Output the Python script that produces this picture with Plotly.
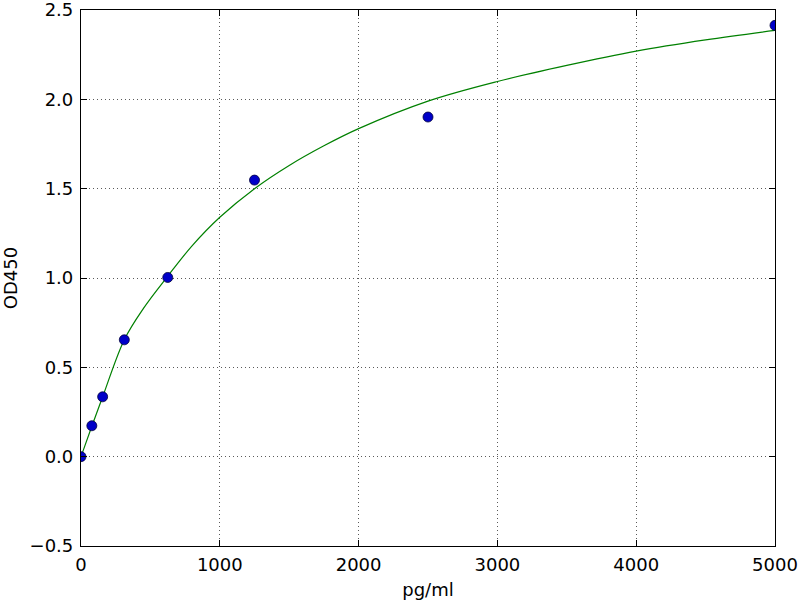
import plotly.graph_objects as go

# standards (pg/ml) and measured OD450
conc = [0, 78, 156, 312, 625, 1250, 2500, 5000]
od450 = [0.0, 0.173, 0.335, 0.654, 1.003, 1.548, 1.901, 2.414]

# fitted curve
fit_x = [0, 78, 156, 312, 450, 625, 800, 1000, 1250, 1500, 1750,
         2000, 2500, 3000, 3500, 4000, 4500, 5000]
fit_y = [0.0, 0.17, 0.335, 0.655, 0.83, 1.01, 1.18, 1.34, 1.50, 1.63, 1.74,
         1.836, 1.99, 2.10, 2.19, 2.27, 2.333, 2.386]

x_ticks = [0, 1000, 2000, 3000, 4000, 5000]
y_ticks = [-0.5, 0.0, 0.5, 1.0, 1.5, 2.0, 2.5]

fig = go.Figure()
fig.add_trace(go.Scatter(
    x=fit_x, y=fit_y, mode='lines',
    line=dict(color='rgb(0,128,0)', width=1.2, shape='spline', smoothing=1.0),
    showlegend=False,
))
fig.add_trace(go.Scatter(
    x=conc, y=od450, mode='markers',
    marker=dict(color='rgb(0,0,200)', size=10, line=dict(color='rgb(0,0,60)', width=0.8)),
    showlegend=False,
))

axis_style = dict(
    showline=True, linecolor='black', linewidth=1.2, mirror='ticks',
    ticks='inside', ticklen=6, tickcolor='black', automargin=False,
    ticklabeloverflow='allow',
    showgrid=True, gridcolor='rgb(90,90,90)', griddash='1px,3px', gridwidth=1,
    zeroline=False, tickfont=dict(size=18, color='black'),
)

fig.update_xaxes(range=[0, 5000], tickvals=x_ticks, ticklabelstandoff=2,
                 title=dict(text='pg/ml', font=dict(size=18, color='black'), standoff=10),
                 **axis_style)
fig.update_yaxes(range=[-0.5, 2.5], tickvals=y_ticks, tickformat='.1f',
                 ticklabelstandoff=3,
                 title=dict(text='OD450', font=dict(size=18, color='black'), standoff=18),
                 **axis_style)

fig.update_layout(
    width=800, height=600,
    margin=dict(l=81, r=25, t=10, b=54),
    plot_bgcolor='white', paper_bgcolor='white',
    font=dict(family='DejaVu Sans', color='black'),
)

# drop the default 8px body margin so the figure fills the window
fig.write_html("out.html", config={'displayModeBar': False},
               post_script="document.body.style.margin='0';")
